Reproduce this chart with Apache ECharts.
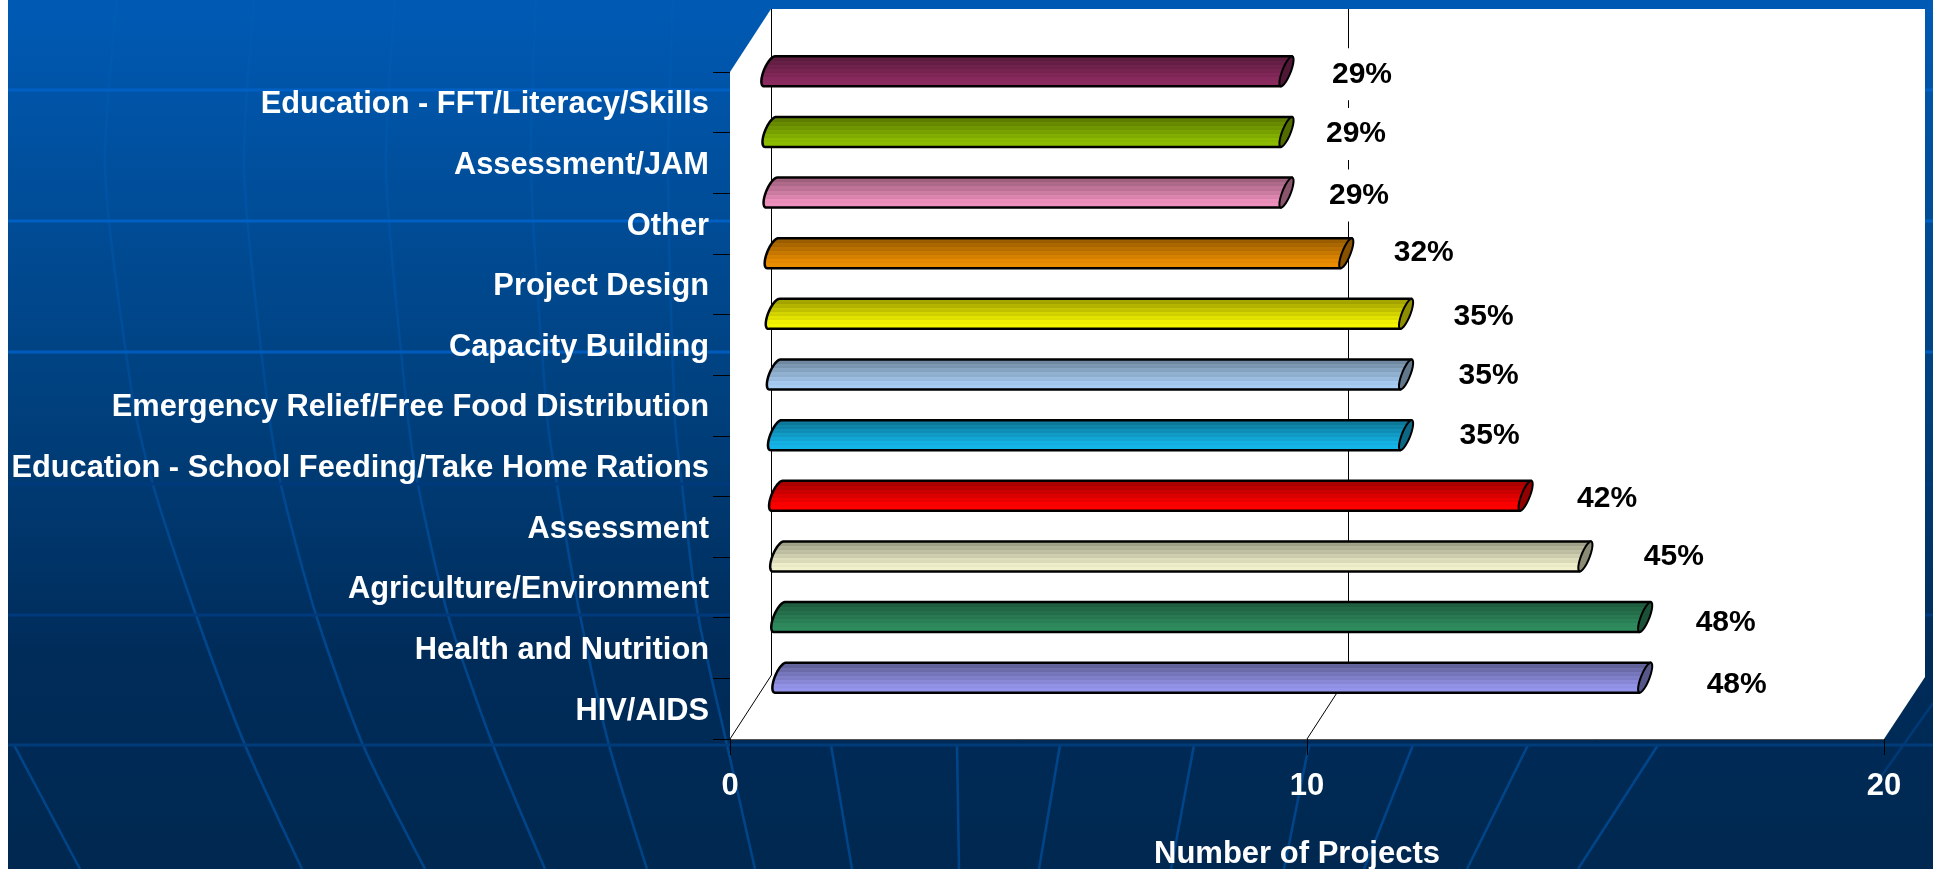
<!DOCTYPE html>
<html lang="en">

<head>
    <meta charset="UTF-8">
    <title>Number of Projects</title>
    <style>
        html, body { margin: 0; padding: 0; background: #fff; }
        #chart { width: 1933px; height: 869px; }
    </style>
</head>

<body>
    <div id="chart"></div>
    <script src="https://cdn.jsdelivr.net/npm/echarts@6/dist/echarts.min.js"></script>
    <script>
        // bottom row first, the category axis counts upward
        const categories = ['HIV/AIDS', 'Health and Nutrition', 'Agriculture/Environment', 'Assessment',
            'Education - School Feeding/Take Home Rations', 'Emergency Relief/Free Food Distribution',
            'Capacity Building', 'Project Design', 'Other', 'Assessment/JAM', 'Education - FFT/Literacy/Skills']
        const projectCounts = [15, 15, 14, 13, 11, 11, 11, 10, 9, 9, 9]
        const percentLabels = ['48%', '48%', '45%', '42%', '35%', '35%', '35%', '32%', '29%', '29%', '29%']

        const barColors = ['#9494ea', '#2e8b5e', '#f0f0cc', '#ff0000', '#14b4e6', '#a8cdf2',
            '#f5f500', '#e88c00', '#ee90bc', '#8cbc00', '#8a2a5e']

        // the labels sit loosely in the original, not at a fixed distance from the bars
        const labelShiftX = [84, 73, 81, 74, 76, 75, 70, 70, 65, 62, 68]
        const labelShiftY = [7, 6, 0, 3, 1, 1, 3, 0, 3, 2, 3]

        const FONT = '"Liberation Sans", Arial, sans-serif'
        const DEPTH_X = 41
        const DEPTH_Y = -64

        // globe lines of the slide background
        const meridians = [
            [[117, 0], [105, 170], [133, 400], [153, 485], [196, 615], [245, 745], [302, 869]],
            [[254, 0], [244, 170], [267, 400], [281, 485], [316, 615], [363, 745], [425, 869]],
            [[395, 0], [386, 170], [406, 400], [418, 485], [448, 615], [493, 745], [545, 869]],
            [[536, 0], [531, 170], [547, 415], [557, 485], [580, 615], [609, 745], [647, 869]],
            [[673, 0], [668, 170], [675, 420], [682, 485], [698, 615], [727, 745], [755, 869]],
            [[14, 745], [80, 869]],
            [[831, 745], [852, 869]],
            [[957, 745], [959, 869]],
            [[1060, 745], [1039, 869]],
            [[1194, 745], [1171, 869]],
            [[1309, 745], [1284, 869]],
            [[1413, 745], [1364, 869]],
            [[1528, 745], [1467, 869]],
            [[1658, 745], [1578, 869]]
        ]
        const parallels = [
            [90, '#0060c4'], [221, '#0060c4'], [352, '#005cbc'],
            [484, '#003a7c'], [615, '#003a7c'], [745, '#003b7a']
        ]

        const backdrop = [{
            type: 'rect',
            shape: { x: 8, y: 0, width: 1925, height: 869 },
            style: {
                fill: {
                    type: 'linear', x: 0, y: 0, x2: 0, y2: 1,
                    colorStops: [
                        { offset: 0, color: '#005ab4' },
                        { offset: 0.45, color: '#00417f' },
                        { offset: 0.75, color: '#002c5a' },
                        { offset: 1, color: '#002850' }
                    ]
                }
            }
        }]
        meridians.forEach(function (points) {
            backdrop.push({
                type: 'polyline',
                shape: { points: points, smooth: 0.25 },
                style: {
                    stroke: {
                        type: 'linear', global: true, x: 0, y: 0, x2: 0, y2: 869,
                        colorStops: [
                            { offset: 0, color: '#005cb4' },
                            { offset: 0.45, color: '#004a94' },
                            { offset: 1, color: '#004488' }
                        ]
                    },
                    lineWidth: 2.5,
                    fill: null
                }
            })
        })
        backdrop.push({
            type: 'line',
            shape: { x1: 1933, y1: 703, x2: 1868, y2: 795 },
            style: { stroke: '#003a76', lineWidth: 2.5 }
        })
        parallels.forEach(function (p) {
            backdrop.push({
                type: 'line',
                shape: { x1: 8, y1: p[0], x2: 1933, y2: p[0] },
                style: { stroke: p[1], lineWidth: 3 }
            })
        })
        backdrop.forEach(function (el) { el.z = -10 })

        function darken(color, k) {
            const c = echarts.color.parse(color)
            return 'rgb(' + Math.round(c[0] * k) + ',' + Math.round(c[1] * k) + ',' + Math.round(c[2] * k) + ')'
        }

        // hard edged bands, dark at the top, flat colour at the bottom of the tube
        function tubeFill(color) {
            const stops = []
            const bands = 16
            for (let i = 0; i < bands; i++) {
                let t = Math.min(1, i / (bands - 3))
                if (i % 2 && t < 1) t = Math.min(1, t + 0.12)
                const c = darken(color, 0.6 + 0.4 * t)
                stops.push({ offset: i / bands, color: c }, { offset: (i + 1) / bands, color: c })
            }
            return { type: 'linear', x: 0, y: 0, x2: 0, y2: 1, colorStops: stops }
        }

        // t = 0 is the top point of a skewed ellipse, t = PI the bottom one
        function ellipsePoints(cx, cy, ax, ay, bx, from, to) {
            const pts = []
            for (let i = 0; i <= 24; i++) {
                const t = from + (to - from) * i / 24
                pts.push([cx + ax * Math.cos(t) + bx * Math.sin(t), cy - ay * Math.cos(t)])
            }
            return pts
        }

        function renderWalls(params, api) {
            const o = api.coord([0, 0])
            const band = api.size([0, 1])[1]
            const x0 = o[0]
            const yFloor = o[1] + band / 2
            const yTop = yFloor - band * categories.length
            const x20 = api.coord([20, 0])[0]
            const x10 = api.coord([10, 0])[0]
            const wallTop = yTop + DEPTH_Y + 1
            const leftWall = Math.round(x0 + DEPTH_X) + 0.5
            const midWall = Math.round(x10 + DEPTH_X) + 0.5
            return {
                type: 'group',
                children: [
                    {
                        type: 'polygon',
                        shape: {
                            points: [[x0, yTop], [x0 + DEPTH_X, wallTop], [x20 + DEPTH_X, wallTop],
                                [x20 + DEPTH_X, yFloor + DEPTH_Y + 2], [x20, yFloor], [x0, yFloor]]
                        },
                        style: { fill: '#fff' }
                    },
                    {
                        type: 'polyline',
                        shape: { points: [[x0, yFloor], [leftWall, yFloor + DEPTH_Y], [leftWall, wallTop]] },
                        style: { stroke: '#000', lineWidth: 1, fill: null }
                    },
                    {
                        type: 'polyline',
                        shape: { points: [[x10, yFloor], [midWall, yFloor + DEPTH_Y], [midWall, wallTop]] },
                        style: { stroke: '#000', lineWidth: 1, fill: null }
                    }
                ]
            }
        }

        const BAR_START = 13
        const BAR_STRETCH = 1.036
        const BAR_LIFT = 31
        const BAR_HALF = 15

        function renderBar(params, api) {
            const i = params.dataIndex
            const p = api.coord([api.value(0), api.value(1)])
            const x0 = api.coord([0, 0])[0]
            const cy = p[1] - BAR_LIFT
            const yt = cy - BAR_HALF
            const yb = cy + BAR_HALF
            const endX = x0 + BAR_START + (p[0] - x0) * BAR_STRETCH
            const startX = x0 + 45 - 1.1 * i
            const skew = 5.5

            const body = ellipsePoints(startX + skew, cy, skew, BAR_HALF, -6, Math.PI, 0)
                .concat([[endX + skew * 2, yt], [endX, yb]])
            const color = barColors[i]

            return {
                type: 'group',
                children: [
                    {
                        type: 'polygon',
                        shape: { points: body },
                        style: { fill: tubeFill(color), stroke: '#000', lineWidth: 2.5, lineJoin: 'round' }
                    },
                    {
                        type: 'polygon',
                        shape: { points: ellipsePoints(endX + skew, cy, skew, BAR_HALF, 4.5, 0, Math.PI * 2) },
                        style: { fill: darken(color, 0.58), stroke: '#000', lineWidth: 2 }
                    },
                    {
                        type: 'text',
                        z2: 10,
                        style: {
                            text: percentLabels[i],
                            x: endX + skew * 2 + labelShiftX[i] + 2,
                            y: cy + labelShiftY[i],
                            align: 'center',
                            verticalAlign: 'middle',
                            fill: '#000',
                            font: 'bold 30px ' + FONT,
                            backgroundColor: '#fff',
                            padding: [11, 0]
                        }
                    }
                ]
            }
        }

        const myChart = echarts.init(document.getElementById('chart'))

        myChart.setOption({
            animation: false,
            backgroundColor: 'transparent',
            graphic: { elements: backdrop },
            grid: { left: 730, right: 49, top: 72, bottom: 130, outerBoundsMode: 'none' },
            xAxis: {
                type: 'value',
                min: 0,
                max: 20,
                interval: 10,
                splitLine: { show: false },
                axisLine: { show: true, lineStyle: { color: '#555', width: 1 } },
                axisTick: { show: true, length: 16, lineStyle: { color: '#000' } },
                axisLabel: { color: '#fff', fontFamily: FONT, fontWeight: 'bold', fontSize: 31, margin: 32 },
                name: 'Number of Projects',
                nameLocation: 'middle',
                nameGap: 100,
                nameTextStyle: { color: '#fff', fontFamily: FONT, fontWeight: 'bold', fontSize: 31, padding: [0, 20, 0, 0] }
            },
            yAxis: {
                type: 'category',
                data: categories,
                splitLine: { show: false },
                axisLine: { show: false },
                axisTick: { show: true, length: 17, lineStyle: { color: '#000' } },
                axisLabel: {
                    color: '#fff', fontFamily: FONT, fontWeight: 'bold', fontSize: 30.8,
                    margin: 21, interval: 0, verticalAlign: 'top', lineHeight: 5
                }
            },
            series: [{
                type: 'custom',
                name: 'walls',
                silent: true,
                z: 1,
                data: [[0, 0]],
                encode: { x: 0, y: 1 },
                renderItem: renderWalls
            }, {
                type: 'custom',
                name: 'projects',
                z: 3,
                data: projectCounts.map(function (v, i) { return [v, i] }),
                encode: { x: 0, y: 1 },
                renderItem: renderBar
            }]
        })
    </script>
</body>

</html>
